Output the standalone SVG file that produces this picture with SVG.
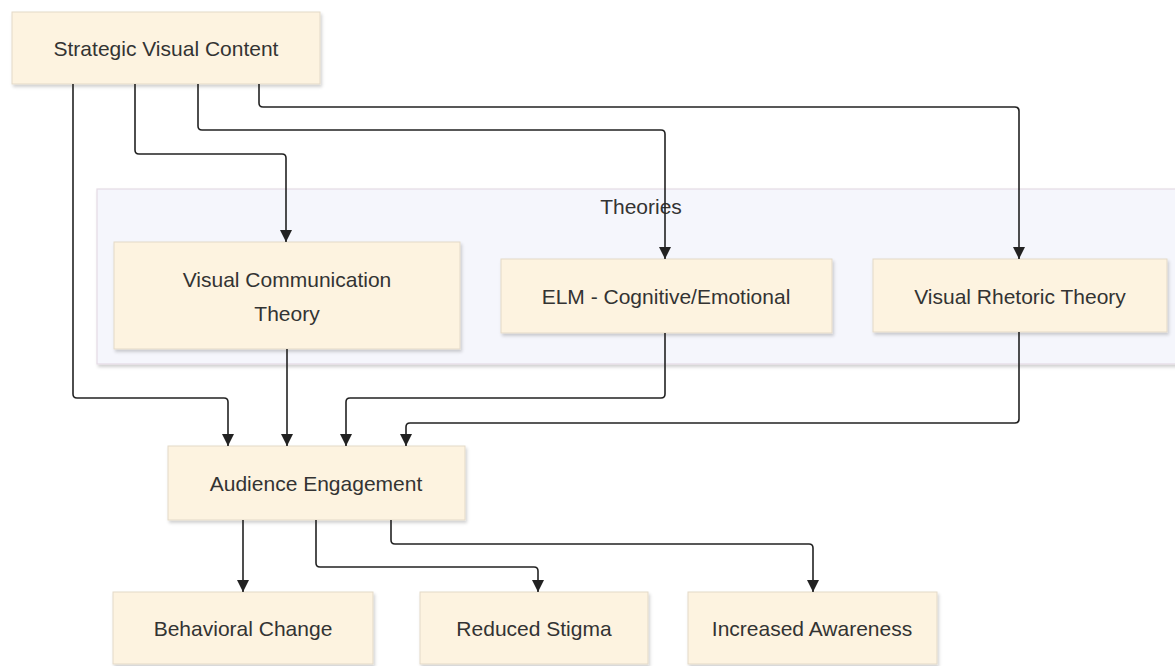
<svg xmlns="http://www.w3.org/2000/svg" width="1175" height="666" viewBox="0 0 1175 666">
<style>
  .node rect { fill: #fdf3e0; stroke: #e3d9c8; stroke-width: 1; filter: url(#shadow); }
  .label { font-family: "Liberation Sans", Arial, sans-serif; font-size: 21px; fill: #333333; text-anchor: middle; dominant-baseline: central; }
  .cluster rect { fill: #f5f6fc; stroke: #e4dbe4; stroke-width: 1.2; filter: url(#shadow); }
  .edge { fill: none; stroke: #222222; stroke-width: 1.6; marker-end: url(#arrow); }
</style>
<defs>
  <filter id="shadow" x="-5%" y="-10%" width="115%" height="130%">
    <feDropShadow dx="1.5" dy="2.5" stdDeviation="1.5" flood-color="#000000" flood-opacity="0.18"/>
  </filter>
  <marker id="arrow" markerUnits="userSpaceOnUse" markerWidth="12" markerHeight="12" viewBox="0 0 10 10" refX="10" refY="5" orient="auto">
    <path d="M0,0 L10,5 L0,10 z" fill="#222222"/>
  </marker>
</defs>
<rect width="1175" height="666" fill="#ffffff"/>

<g id="cluster-theories" class="cluster">
  <rect x="97" y="189" width="1090" height="175"/>
  <text class="label" x="641" y="206">Theories</text>
</g>

<g id="node-svc" class="node">
  <rect x="12" y="12" width="308" height="72"/>
  <text class="label" x="166" y="48">Strategic Visual Content</text>
</g>
<g id="node-vct" class="node">
  <rect x="114" y="242" width="346" height="107"/>
  <text class="label" x="287" y="279">Visual Communication</text>
  <text class="label" x="287" y="313">Theory</text>
</g>
<g id="node-elm" class="node">
  <rect x="501" y="259" width="331" height="74"/>
  <text class="label" x="666" y="296">ELM - Cognitive/Emotional</text>
</g>
<g id="node-vrt" class="node">
  <rect x="873" y="259" width="294" height="73"/>
  <text class="label" x="1020" y="296">Visual Rhetoric Theory</text>
</g>
<g id="node-ae" class="node">
  <rect x="168" y="446" width="297" height="74"/>
  <text class="label" x="316" y="483">Audience Engagement</text>
</g>
<g id="node-bc" class="node">
  <rect x="113" y="592" width="260" height="72"/>
  <text class="label" x="243" y="628">Behavioral Change</text>
</g>
<g id="node-rs" class="node">
  <rect x="420" y="592" width="228" height="72"/>
  <text class="label" x="534" y="628">Reduced Stigma</text>
</g>
<g id="node-ia" class="node">
  <rect x="688" y="592" width="249" height="72"/>
  <text class="label" x="812" y="628">Increased Awareness</text>
</g>

<g id="connectors">
  <path class="edge" d="M73,84 V394 Q73,398 77,398 H224 Q228,398 228,402 V446"/>
  <path class="edge" d="M135,84 V150 Q135,154 139,154 H282 Q286,154 286,158 V242"/>
  <path class="edge" d="M198,84 V126 Q198,130 202,130 H661 Q665,130 665,134 V259"/>
  <path class="edge" d="M259,84 V103 Q259,107 263,107 H1015 Q1019,107 1019,111 V259"/>
  <path class="edge" d="M287,349 V446"/>
  <path class="edge" d="M665,333 V394 Q665,398 661,398 H350 Q346,398 346,402 V446"/>
  <path class="edge" d="M1019,332 V419 Q1019,423 1015,423 H410 Q406,423 406,427 V446"/>
  <path class="edge" d="M243,520 V592"/>
  <path class="edge" d="M316,520 V563 Q316,567 320,567 H534 Q538,567 538,571 V592"/>
  <path class="edge" d="M391,520 V540 Q391,544 395,544 H809 Q813,544 813,548 V592"/>
</g>
</svg>
